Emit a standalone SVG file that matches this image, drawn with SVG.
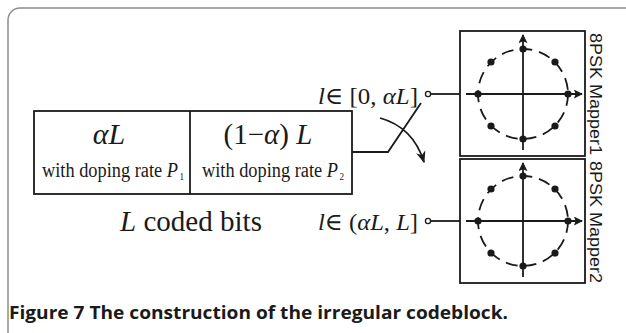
<svg xmlns="http://www.w3.org/2000/svg" width="626" height="333" viewBox="0 0 626 333">
<style>
.frame{fill:none;stroke:#8c8c8c;stroke-width:1.5}
.box{fill:none;stroke:#1a1a1a;stroke-width:1.8}
.ln{fill:none;stroke:#1a1a1a;stroke-width:1.8}
.ring{fill:none;stroke:#1a1a1a;stroke-width:1.8;stroke-dasharray:12 7}
.dot{fill:#1a1a1a}
.serif{font-family:"Liberation Serif","DejaVu Serif",serif;fill:#1a1a1a}
.it{font-style:italic}
.side{font-family:"Liberation Sans",Arial,sans-serif;font-size:17px;fill:#1a1a1a}
.cap{font-family:"Open Sans","Noto Sans",sans-serif;font-size:18.5px;font-weight:bold;fill:#1a1a1a}
.term{fill:#fff;stroke:#1a1a1a;stroke-width:1.3}
</style>
<defs>
<marker id="ah" viewBox="0 0 10 10" refX="9" refY="5" markerWidth="9" markerHeight="9" markerUnits="userSpaceOnUse" orient="auto">
<path d="M0,0 L10,5 L0,10 L2,5 z" fill="#1a1a1a"/>
</marker>
<marker id="ah2" viewBox="0 0 10 10" refX="9" refY="5" markerWidth="12" markerHeight="12" markerUnits="userSpaceOnUse" orient="auto">
<path d="M0,1 L10,5 L0,9 L3,5 z" fill="#1a1a1a"/>
</marker>
</defs>
<rect class="frame" x="8" y="8" width="660" height="360" rx="12"/>

<g id="codeblock">
<rect class="box" x="34" y="111" width="318" height="83"/>
<line class="ln" x1="190" y1="111" x2="190" y2="194"/>
<text class="serif it" x="109" y="144" font-size="30" text-anchor="middle">αL</text>
<text class="serif" x="42" y="177" font-size="20" textLength="142" lengthAdjust="spacingAndGlyphs">with doping rate <tspan class="it">P</tspan><tspan font-size="10" dx="1.5" dy="3">1</tspan></text>
<text class="serif" x="268" y="144" font-size="29" text-anchor="middle">(1−<tspan class="it">α</tspan>) <tspan class="it">L</tspan></text>
<text class="serif" x="202" y="177" font-size="20" textLength="142" lengthAdjust="spacingAndGlyphs">with doping rate <tspan class="it">P</tspan><tspan font-size="10" dx="1.5" dy="3">2</tspan></text>
</g>
<g id="label-coded">
<text class="serif" x="120" y="231" font-size="29" textLength="142" lengthAdjust="spacingAndGlyphs"><tspan class="it">L</tspan> coded bits</text>
</g>
<g id="label-top">
<text class="serif" x="318" y="104" font-size="24" textLength="100" lengthAdjust="spacingAndGlyphs"><tspan class="it">l</tspan>∈ [0, <tspan class="it">αL</tspan>]</text>
</g>
<g id="label-bottom">
<text class="serif" x="318" y="230" font-size="24" textLength="100" lengthAdjust="spacingAndGlyphs"><tspan class="it">l</tspan>∈ (<tspan class="it">αL</tspan>, <tspan class="it">L</tspan>]</text>
</g>

<g id="connectors">
<line class="ln" x1="431" y1="94" x2="460" y2="94"/>
<line class="ln" x1="431" y1="221" x2="460" y2="221"/>
<polyline class="ln" points="352,152 388,152 421,103"/>
<path class="ln" d="M380,118 Q413,127 424,162" marker-end="url(#ah2)"/>
<circle class="term" cx="428" cy="94" r="2.6"/>
<circle class="term" cx="428" cy="221" r="2.6"/>
</g>

<g id="mapper1">
<rect class="box" x="460" y="31" width="125" height="125"/>
<circle class="ring" cx="523" cy="94" r="45"/>
<line class="ln" x1="466" y1="94" x2="582" y2="94" marker-end="url(#ah)"/>
<line class="ln" x1="523" y1="150" x2="523" y2="35" marker-end="url(#ah)"/>
<circle class="dot" cx="568" cy="94" r="3.6"/>
<circle class="dot" cx="478" cy="94" r="3.6"/>
<circle class="dot" cx="523" cy="49" r="3.6"/>
<circle class="dot" cx="523" cy="139" r="3.6"/>
<circle class="dot" cx="555" cy="62" r="3.6"/>
<circle class="dot" cx="491" cy="62" r="3.6"/>
<circle class="dot" cx="555" cy="126" r="3.6"/>
<circle class="dot" cx="491" cy="126" r="3.6"/>
<text class="side" transform="translate(590,33) rotate(90)" textLength="122" lengthAdjust="spacingAndGlyphs">8PSK Mapper1</text>
</g>

<g id="mapper2">
<rect class="box" x="460" y="159" width="125" height="124"/>
<circle class="ring" cx="523" cy="221" r="45"/>
<line class="ln" x1="466" y1="221" x2="582" y2="221" marker-end="url(#ah)"/>
<line class="ln" x1="523" y1="277" x2="523" y2="163" marker-end="url(#ah)"/>
<circle class="dot" cx="568" cy="221" r="3.6"/>
<circle class="dot" cx="478" cy="221" r="3.6"/>
<circle class="dot" cx="523" cy="176" r="3.6"/>
<circle class="dot" cx="523" cy="266" r="3.6"/>
<circle class="dot" cx="555" cy="189" r="3.6"/>
<circle class="dot" cx="491" cy="189" r="3.6"/>
<circle class="dot" cx="555" cy="253" r="3.6"/>
<circle class="dot" cx="491" cy="253" r="3.6"/>
<text class="side" transform="translate(590,161) rotate(90)" textLength="122" lengthAdjust="spacingAndGlyphs">8PSK Mapper2</text>
</g>

<g id="caption">
<text class="cap" x="9" y="319" textLength="499" lengthAdjust="spacingAndGlyphs">Figure 7 The construction of the irregular codeblock.</text>
</g>
</svg>
